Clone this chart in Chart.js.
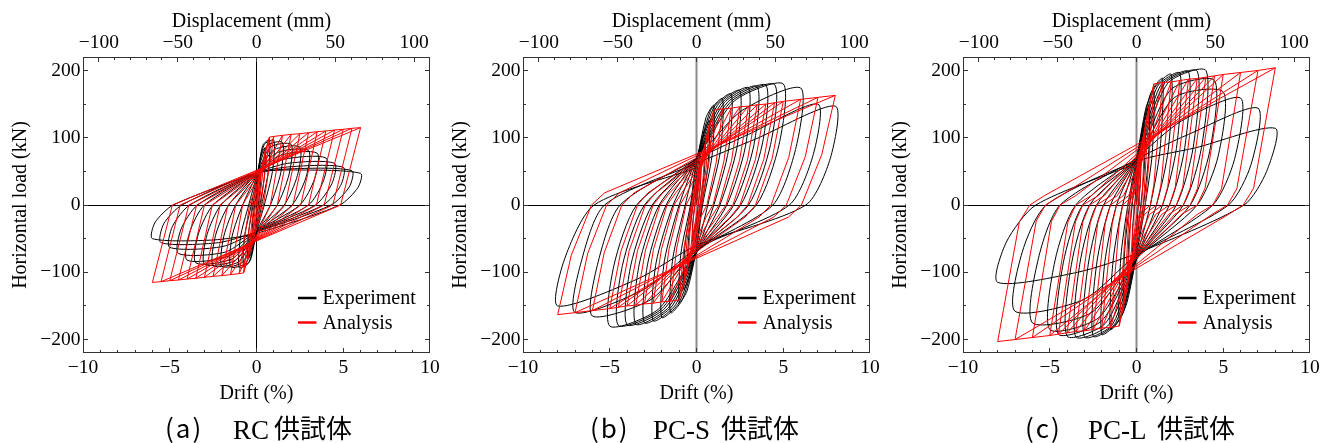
<!DOCTYPE html>
<html>
<head>
<meta charset="utf-8">
<script src="https://cdn.jsdelivr.net/npm/chart.js@4.4.1/dist/chart.umd.min.js"></script>
<style>
  body { margin: 0; width: 1322px; height: 443px; background: #fff; overflow: hidden; position: relative; }
  canvas { position: absolute; top: 0; }
  .cap { position: absolute; white-space: nowrap; line-height: 1; color: #000; }
  .jp { font-family: "Noto Sans CJK JP", sans-serif; font-size: 26px; top: 414px; }
  .par { letter-spacing: 2px; }
  .lat { font-family: "Liberation Serif", serif; font-size: 27px; top: 417px; }
</style>
</head>
<body>
<canvas id="rc" width="442" height="410" style="left:0px"></canvas>
<canvas id="pcs" width="442" height="410" style="left:440px"></canvas>
<canvas id="pcl" width="442" height="410" style="left:880px"></canvas>

<span class="cap jp par" style="left:165px">(a)</span>
<span class="cap lat" style="left:233px">RC</span>
<span class="cap jp" style="left:274px">供試体</span>

<span class="cap jp par" style="left:590px">(b)</span>
<span class="cap lat" style="left:653px">PC-S</span>
<span class="cap jp" style="left:721px">供試体</span>

<span class="cap jp par" style="left:1025px">(c)</span>
<span class="cap lat" style="left:1088px">PC-L</span>
<span class="cap jp" style="left:1157px">供試体</span>

<script>
// ---- data (drift in %, load in kN) ----

// (a) RC specimen
const rcDrift = [0.25, 0.5, 0.75, 1, 1.5, 2, 2.5, 3, 3.5, 4, 4.5, 5, 5.5, 6];
// analysis: peak loads and zero-load drift after unloading (symmetric model)
const rcAnaPos = [45, 80, 101, 102, 103.5, 105, 106, 107.5, 109, 110, 111.5, 112.5, 114, 115];
const rcAnaNeg = [-45, -80, -101, -102, -103.5, -105, -106, -107.5, -109, -110, -111.5, -112.5, -114, -115];
const rcAnaZero = [0.05, 0.15, 0.25, 0.4, 0.8, 1.2, 1.65, 2.1, 2.55, 3, 3.45, 3.9, 4.4, 4.85];
// experiment: rise point, peak, unloading knee, zero crossing, load at zero drift
const rcExpRisePosX = [0.12, 0.25, 0.35, 0.45, 0.6, 0.8, 1, 1.2, 1.4, 1.6, 1.8, 2, 2.2, 2.5];
const rcExpRisePosY = [45, 72, 88, 90, 88, 86, 82, 78, 74, 68, 62, 57, 54, 52];
const rcExpPos = [55, 85, 97, 96, 93, 90, 86, 81, 77, 70, 62, 56, 51, 47];
const rcExpKneePosX = [0.22, 0.45, 0.68, 0.92, 1.4, 1.88, 2.36, 2.85, 3.35, 3.86, 4.35, 4.85, 5.35, 5.85];
const rcExpKneePosY = [28, 42, 50, 50, 48, 46, 44, 41, 39, 36, 32, 29, 27, 26];
const rcExpZeroPos = [0.1, 0.2, 0.3, 0.45, 0.8, 1.2, 1.6, 2.05, 2.5, 3, 3.4, 3.85, 4.3, 4.8];
const rcExpPinchPos = [-20, -32, -38, -40, -40, -40, -40, -40, -40, -40, -40, -40, -40, -42];
const rcExpRiseNegX = [-0.12, -0.25, -0.35, -0.45, -0.6, -0.8, -1, -1.2, -1.4, -1.6, -1.8, -2, -2.2, -2.5];
const rcExpRiseNegY = [-40, -68, -82, -86, -86, -85, -84, -82, -80, -76, -70, -62, -56, -52];
const rcExpNeg = [-50, -80, -90, -93, -92, -91, -90, -88, -86, -82, -72, -63, -56, -50];
const rcExpKneeNegX = [-0.22, -0.45, -0.68, -0.92, -1.4, -1.88, -2.36, -2.85, -3.35, -3.86, -4.35, -4.85, -5.35, -5.85];
const rcExpKneeNegY = [-25, -40, -45, -47, -46, -46, -45, -44, -43, -41, -36, -32, -28, -26];
const rcExpZeroNeg = [-0.1, -0.2, -0.3, -0.45, -0.8, -1.2, -1.6, -2.05, -2.5, -3, -3.4, -3.85, -4.3, -4.8];
const rcExpPinchNeg = [20, 32, 40, 42, 44, 45, 46, 46, 47, 47, 47, 47, 48, 48];

// (b) PC-S specimen
const pcsDrift = [0.25, 0.5, 0.75, 1, 1.5, 2, 2.5, 3, 3.5, 4, 4.5, 5, 6, 7, 8];
const pcsAnaPos = [50, 90, 120, 141, 143, 144, 146, 147, 149, 150, 152, 154, 157, 160, 163];
const pcsAnaNeg = [-50, -90, -120, -141, -143, -144, -146, -147, -149, -150, -152, -154, -157, -160, -163];
const pcsAnaZero = [0.1, 0.2, 0.25, 0.3, 0.6, 0.95, 1.3, 1.7, 2.1, 2.5, 2.95, 3.4, 4.3, 5.18, 6.05];
const pcsAnaKnee1X = [0.19, 0.38, 0.55, 0.72, 1.14, 1.58, 2.02, 2.48, 2.94, 3.4, 3.88, 4.36, 5.32, 6.27, 7.22];
const pcsAnaKnee1Y = [22, 40, 54, 63, 64, 65, 66, 66, 67, 68, 68, 69, 71, 72, 75];
const pcsAnaKnee2X = [0.05, 0.08, 0.05, 0.02, 0.25, 0.55, 0.85, 1.2, 1.55, 1.95, 2.35, 2.8, 3.6, 4.45, 5.3];
const pcsAnaKnee2Y = [-8, -15, -25, -35, -18, -18, -18, -18, -18, -18, -18, -18, -18, -18, -18];
const pcsExpRisePosX = [0.12, 0.25, 0.4, 0.55, 0.8, 1, 1.2, 1.4, 1.6, 1.8, 2, 2.2, 2.6, 3, 3.4];
const pcsExpRisePosY = [40, 75, 105, 130, 140, 145, 148, 150, 152, 153, 154, 155, 140, 105, 98];
const pcsExpPos = [55, 95, 125, 148, 158, 165, 170, 174, 176, 178, 179, 180, 174, 150, 147];
const pcsExpKneePosX = [0.22, 0.45, 0.67, 0.9, 1.37, 1.85, 2.33, 2.82, 3.3, 3.78, 4.27, 4.76, 5.75, 6.73, 7.72];
const pcsExpKneePosY = [28, 48, 62, 74, 79, 82, 85, 87, 88, 89, 90, 90, 87, 75, 70];
const pcsExpZeroPos = [0.1, 0.2, 0.3, 0.35, 0.65, 1, 1.35, 1.75, 2.15, 2.55, 3, 3.45, 4.4, 5.35, 6.3];
const pcsExpPinchPos = [-25, -45, -60, -65, -68, -70, -70, -70, -70, -70, -70, -70, -68, -65, -60];
const pcsExpRiseNegX = [-0.12, -0.25, -0.4, -0.55, -0.8, -1, -1.2, -1.4, -1.6, -1.8, -2, -2.2, -2.6, -3, -3.4];
const pcsExpRiseNegY = [-40, -75, -105, -128, -140, -145, -148, -150, -152, -153, -154, -155, -140, -125, -110];
const pcsExpNeg = [-55, -95, -125, -145, -160, -167, -172, -175, -177, -178, -179, -180, -165, -160, -150];
const pcsExpKneeNegX = [-0.22, -0.45, -0.67, -0.9, -1.37, -1.85, -2.33, -2.82, -3.3, -3.78, -4.27, -4.76, -5.7, -6.65, -7.6];
const pcsExpKneeNegY = [-28, -48, -62, -72, -80, -83, -86, -88, -88, -89, -90, -90, -88, -85, -80];
const pcsExpZeroNeg = [-0.1, -0.2, -0.3, -0.35, -0.65, -1, -1.35, -1.75, -2.15, -2.55, -3, -3.45, -4.4, -5.3, -5.9];
const pcsExpPinchNeg = [25, 45, 60, 65, 68, 70, 70, 70, 70, 70, 70, 70, 68, 62, 55];

// (c) PC-L specimen
const pclDrift = [0.25, 0.5, 0.75, 1, 1.5, 2, 2.5, 3, 3.5, 4, 4.5, 5, 6, 7, 8];
const pclAnaPos = [60, 110, 150, 180, 182, 183, 185, 187, 188, 190, 192, 194, 197, 200, 204];
const pclAnaNeg = [-60, -110, -150, -180, -182, -183, -185, -187, -188, -190, -192, -194, -197, -200, -203];
const pclAnaZero = [0.15, 0.3, 0.4, 0.5, 0.8, 1.15, 1.5, 1.9, 2.3, 2.7, 3.1, 3.5, 4.4, 5.25, 6.15];
const pclAnaKnee1X = [0.2, 0.4, 0.55, 0.7, 1, 1.4, 1.8, 2.23, 2.66, 3.09, 3.52, 3.95, 4.9, 5.78, 6.75];
const pclAnaKnee1Y = [30, 55, 70, 60, 30, 28, 27, 26, 26, 25, 25, 25, 24, 24, 25];
const pclAnaKnee2X = [0.05, 0.1, 0.1, 0.1, 0.2, 0.45, 0.75, 1.1, 1.45, 1.85, 2.2, 2.6, 3.5, 4.35, 5.3];
const pclAnaKnee2Y = [-10, -20, -30, -40, -14, -14, -14, -14, -14, -14, -14, -14, -14, -14, -14];
const pclExpRisePosX = [0.12, 0.25, 0.4, 0.55, 0.8, 1, 1.2, 1.4, 1.6, 1.8, 2, 2.2, 2.6, 3, 3.4];
const pclExpRisePosY = [50, 90, 120, 145, 165, 172, 176, 178, 180, 181, 172, 160, 125, 105, 85];
const pclExpPos = [70, 120, 150, 170, 188, 194, 196, 198, 199, 200, 185, 168, 159, 144, 114];
const pclExpKneePosX = [0.22, 0.45, 0.68, 0.9, 1.35, 1.83, 2.3, 2.78, 3.27, 3.75, 4.22, 4.7, 5.65, 6.6, 7.5];
const pclExpKneePosY = [32, 55, 68, 75, 80, 82, 84, 85, 86, 86, 80, 72, 68, 60, 50];
const pclExpZeroPos = [0.1, 0.25, 0.4, 0.5, 0.8, 1.15, 1.5, 1.9, 2.3, 2.7, 3.1, 3.5, 4.4, 5.3, 6.2];
const pclExpPinchPos = [-40, -60, -70, -75, -78, -80, -80, -80, -80, -80, -80, -80, -78, -75, -72];
const pclExpRiseNegX = [-0.12, -0.25, -0.4, -0.55, -0.8, -1, -1.2, -1.4, -1.6, -1.8, -2, -2.2, -2.6, -3, -3.4];
const pclExpRiseNegY = [-50, -90, -120, -145, -162, -170, -175, -178, -178, -176, -172, -168, -160, -140, -100];
const pclExpNeg = [-70, -120, -150, -170, -185, -192, -195, -196, -196, -195, -192, -185, -175, -158, -115];
const pclExpKneeNegX = [-0.22, -0.45, -0.68, -0.9, -1.35, -1.83, -2.3, -2.78, -3.27, -3.75, -4.22, -4.7, -5.65, -6.6, -7.5];
const pclExpKneeNegY = [-32, -55, -68, -77, -83, -86, -88, -88, -88, -88, -86, -83, -79, -71, -55];
const pclExpZeroNeg = [-0.1, -0.25, -0.4, -0.5, -0.8, -1.15, -1.5, -1.9, -2.3, -2.7, -3.1, -3.5, -4.4, -5.2, -5.8];
const pclExpPinchNeg = [40, 60, 65, 68, 70, 70, 70, 70, 70, 70, 70, 70, 68, 65, 62];

// axis labels
const driftLabels = [-10, -5, 0, 5, 10];
const mmLabels = [-100, -50, 0, 50, 100];
const loadLabels = [-200, -100, 0, 100, 200];


// ---- path building: put the read points in loading order ----

// analysis: after each unloading it reloads to the previous peak, then on to the new one
function analysisPath(drift, pos, neg, zero, k1x, k1y, k2x, k2y) {
  const pts = [{x: 0, y: 0}];
  for (let i = 0; i < drift.length; i++) {
    if (i > 0) pts.push({x: drift[i - 1], y: pos[i - 1]});
    pts.push({x: drift[i], y: pos[i]});
    if (k1x) pts.push({x: k1x[i], y: k1y[i]});
    pts.push({x: zero[i], y: 0});
    if (k2x) pts.push({x: k2x[i], y: k2y[i]});
    if (i > 0) pts.push({x: -drift[i - 1], y: neg[i - 1]});
    pts.push({x: -drift[i], y: neg[i]});
    if (k1x) pts.push({x: -k1x[i], y: -k1y[i]});
    pts.push({x: -zero[i], y: 0});
    if (k2x) pts.push({x: -k2x[i], y: -k2y[i]});
  }
  const last = drift.length - 1;
  pts.push({x: drift[last], y: pos[last]});
  return pts;
}

function experimentPath(drift, p, n) {
  const pts = [{x: 0, y: 0}];
  for (let i = 0; i < drift.length; i++) {
    pts.push({x: p.rx[i], y: p.ry[i]}, {x: drift[i], y: p.peak[i]}, {x: p.kx[i], y: p.ky[i]},
             {x: p.zero[i], y: 0}, {x: 0, y: p.pinch[i]});
    pts.push({x: n.rx[i], y: n.ry[i]}, {x: -drift[i], y: n.peak[i]}, {x: n.kx[i], y: n.ky[i]},
             {x: n.zero[i], y: 0}, {x: 0, y: n.pinch[i]});
  }
  return pts;
}


// ---- drawing ----

const serif = '"Liberation Serif", "Times New Roman", serif';
const tickFont = { family: serif, size: 19.5 };
const titleFont = { family: serif, size: 20 };
const minus = v => (v < 0 ? '\u2212' + Math.abs(v) : String(v));

// frame, inward tick marks, zero lines and the legend inside the box
const panelDeco = {
  id: 'panelDeco',
  beforeDatasetsDraw(chart, args, opts) {
    const { ctx, chartArea: a, scales: { x, y } } = chart;
    ctx.save();
    const px = Math.floor(x.getPixelForValue(0)) + 0.5;
    const py = Math.floor(y.getPixelForValue(0)) + 0.5;
    ctx.strokeStyle = '#000';
    ctx.lineWidth = 1;
    ctx.beginPath();
    ctx.moveTo(a.left, py); ctx.lineTo(a.right, py);
    ctx.stroke();
    ctx.strokeStyle = opts.vColor;
    ctx.lineWidth = opts.vWidth;
    ctx.beginPath();
    ctx.moveTo(px, a.top); ctx.lineTo(px, a.bottom);
    ctx.stroke();
    ctx.restore();
  },
  afterDraw(chart) {
    const { ctx, chartArea: a, scales: { x, x2, y } } = chart;
    ctx.save();
    ctx.strokeStyle = '#333';
    ctx.lineWidth = 1;
    ctx.beginPath();
    for (let v = -200; v <= 200; v += 50) {
      const p = Math.floor(y.getPixelForValue(v)) + 0.5;
      const len = v % 100 === 0 ? 5 : 3;
      ctx.moveTo(a.left, p); ctx.lineTo(a.left + len, p);
      ctx.moveTo(a.right, p); ctx.lineTo(a.right - len, p);
    }
    for (let v = -9; v <= 9; v++) {
      const p = Math.floor(x.getPixelForValue(v)) + 0.5;
      const len = v % 5 === 0 ? 5 : 3;
      ctx.moveTo(p, a.bottom); ctx.lineTo(p, a.bottom - len);
    }
    for (let v = -100; v <= 100; v += 10) {
      const p = Math.floor(x2.getPixelForValue(v)) + 0.5;
      const len = v % 50 === 0 ? 5 : 3;
      ctx.moveTo(p, a.top); ctx.lineTo(p, a.top + len);
    }
    ctx.stroke();
    ctx.strokeRect(a.left + 0.5, a.top + 0.5, a.right - a.left - 1, a.bottom - a.top - 1);

    // legend
    const items = [['Experiment', '#000'], ['Analysis', '#ff0000']];
    ctx.font = '20px ' + serif;
    ctx.textBaseline = 'middle';
    ctx.textAlign = 'left';
    items.forEach(([label, color], i) => {
      const yy = a.top + 241 + i * 24.5;
      ctx.strokeStyle = color;
      ctx.lineWidth = 2.5;
      ctx.beginPath();
      ctx.moveTo(a.left + 215, yy); ctx.lineTo(a.left + 233.5, yy);
      ctx.stroke();
      ctx.fillStyle = '#000';
      ctx.fillText(label, a.left + 239.5, yy + 1);
    });
    ctx.restore();
  }
};

function noPad(s) { s.paddingLeft = 0; s.paddingRight = 0; s.paddingTop = 0; s.paddingBottom = 0; }

const noGrid = { display: false, drawTicks: false };

function makePanel(id, expPts, anaPts, vColor, vWidth) {
  return new Chart(document.getElementById(id), {
    type: 'scatter',
    data: {
      datasets: [
        { label: 'Analysis', data: anaPts, showLine: true, borderColor: '#ff0000', borderWidth: 1,
          pointRadius: 0, tension: 0, order: 0 },
        { label: 'Experiment', data: expPts, showLine: true, borderColor: '#000', borderWidth: 1,
          pointRadius: 0, tension: 0.25, order: 1 }
      ]
    },
    options: {
      responsive: false,
      animation: false,
      devicePixelRatio: 1,
      layout: { padding: { left: 0, right: 12, top: 0, bottom: 0 } },
      plugins: {
        legend: { display: false },
        tooltip: { enabled: false },
        panelDeco: { vColor: vColor, vWidth: vWidth }
      },
      scales: {
        x: {
          type: 'linear', position: 'bottom', min: -10, max: 10,
          grid: noGrid, border: { display: false },
          afterBuildTicks: s => { s.ticks = driftLabels.map(value => ({ value })); },
          ticks: { color: '#000', font: tickFont, padding: 3, maxRotation: 0, callback: minus },
          title: { display: true, text: 'Drift (%)', color: '#000', font: titleFont, padding: { top: 0, bottom: 4 } },
          afterFit: s => { s.height = 57; noPad(s); }
        },
        x2: {
          type: 'linear', position: 'top', min: -110, max: 110,
          grid: noGrid, border: { display: false },
          afterBuildTicks: s => { s.ticks = mmLabels.map(value => ({ value })); },
          ticks: { color: '#000', font: tickFont, padding: 2, maxRotation: 0, callback: minus },
          title: { display: true, text: 'Displacement (mm)  ', color: '#000', font: titleFont, padding: { top: 10, bottom: 0 } },
          afterFit: s => { s.height = 57; noPad(s); }
        },
        y: {
          type: 'linear', min: -220, max: 220,
          grid: noGrid, border: { display: false },
          afterBuildTicks: s => { s.ticks = loadLabels.map(value => ({ value })); },
          ticks: { color: '#000', font: tickFont, padding: 2.5, callback: minus },
          title: { display: true, text: 'Horizontal load (kN)', color: '#000', font: titleFont, padding: { top: 9, bottom: 0 } },
          afterFit: s => { s.width = 83; noPad(s); }
        }
      }
    },
    plugins: [panelDeco]
  });
}

makePanel('rc',
  experimentPath(rcDrift,
    { rx: rcExpRisePosX, ry: rcExpRisePosY, peak: rcExpPos, kx: rcExpKneePosX, ky: rcExpKneePosY, zero: rcExpZeroPos, pinch: rcExpPinchPos },
    { rx: rcExpRiseNegX, ry: rcExpRiseNegY, peak: rcExpNeg, kx: rcExpKneeNegX, ky: rcExpKneeNegY, zero: rcExpZeroNeg, pinch: rcExpPinchNeg }),
  analysisPath(rcDrift, rcAnaPos, rcAnaNeg, rcAnaZero),
  '#000', 1);

makePanel('pcs',
  experimentPath(pcsDrift,
    { rx: pcsExpRisePosX, ry: pcsExpRisePosY, peak: pcsExpPos, kx: pcsExpKneePosX, ky: pcsExpKneePosY, zero: pcsExpZeroPos, pinch: pcsExpPinchPos },
    { rx: pcsExpRiseNegX, ry: pcsExpRiseNegY, peak: pcsExpNeg, kx: pcsExpKneeNegX, ky: pcsExpKneeNegY, zero: pcsExpZeroNeg, pinch: pcsExpPinchNeg }),
  analysisPath(pcsDrift, pcsAnaPos, pcsAnaNeg, pcsAnaZero, pcsAnaKnee1X, pcsAnaKnee1Y, pcsAnaKnee2X, pcsAnaKnee2Y),
  '#8c8c8c', 2);

makePanel('pcl',
  experimentPath(pclDrift,
    { rx: pclExpRisePosX, ry: pclExpRisePosY, peak: pclExpPos, kx: pclExpKneePosX, ky: pclExpKneePosY, zero: pclExpZeroPos, pinch: pclExpPinchPos },
    { rx: pclExpRiseNegX, ry: pclExpRiseNegY, peak: pclExpNeg, kx: pclExpKneeNegX, ky: pclExpKneeNegY, zero: pclExpZeroNeg, pinch: pclExpPinchNeg }),
  analysisPath(pclDrift, pclAnaPos, pclAnaNeg, pclAnaZero, pclAnaKnee1X, pclAnaKnee1Y, pclAnaKnee2X, pclAnaKnee2Y),
  '#8c8c8c', 2);
</script>
</body>
</html>
